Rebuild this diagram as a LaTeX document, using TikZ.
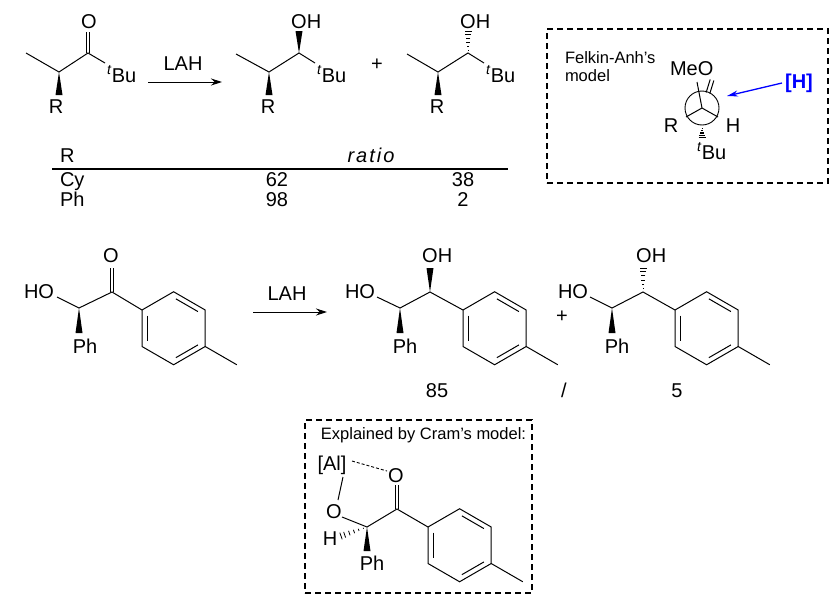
\documentclass[tikz,border=0pt]{standalone}
\usepackage{fontspec}
\setmainfont{Liberation Sans}
\usetikzlibrary{calc,arrows.meta}
\tikzset{
  bond/.style={line width=1pt},
  lb/.style={inner sep=0pt, outer sep=0pt, font=\fontsize{20}{24}\selectfont},
  tb/.style={lb, text height=14.5pt, text depth=0.5pt},
  sm/.style={inner sep=0pt, outer sep=0pt, font=\fontsize{16.5}{19}\selectfont},
  boxd/.style={draw, line width=1.2pt, dash pattern=on 6pt off 4pt, inner sep=0pt},
  rxn/.style={line width=1pt, -{Stealth[length=11pt,width=7pt]}},
  harrow/.style={line width=1.3pt, draw=blue, -{Stealth[length=11pt,width=6pt]}},
}
\newcommand{\wdg}[2]{\fill ($(#2)!3.5pt!90:(#1)$) -- (#1) -- ($(#2)!3.5pt!-90:(#1)$) -- cycle;}
\newcommand{\hsh}[2]{\foreach \hh in {0.14,0.32,0.5,0.68,0.86,1.0}{\draw[line width=0.8pt] ($(#1)!\hh!(#2)!{\hh*3.5pt}!90:(#1)$) -- ($(#1)!\hh!(#2)!{\hh*3.5pt}!-90:(#1)$);}}
\newcommand{\dblb}[2]{%
\draw[bond] ($(#1)!1.9pt!90:(#2)$) -- ($(#2)!1.9pt!-90:(#1)$);
\draw[bond] ($(#1)!1.9pt!-90:(#2)$) -- ($(#2)!1.9pt!90:(#1)$);}
\newcommand{\tolring}[3]{%
\begin{scope}[shift={(#2,#3)}]
\coordinate (#1a) at (0,0);
\coordinate (#1b) at (31.6,-18.25);
\coordinate (#1c) at (63.2,0);
\coordinate (#1d) at (63.2,36.5);
\coordinate (#1e) at (31.6,54.75);
\coordinate (#1f) at (0,36.5);
\coordinate (#1m) at (94.8,54.75);
\coordinate (#1i1) at (5,5.5);
\coordinate (#1i2) at (5,31);
\coordinate (#1i3) at (33.86,-11.17);
\coordinate (#1i4) at (55.94,1.58);
\coordinate (#1i5) at (55.94,34.92);
\coordinate (#1i6) at (33.86,47.67);
\draw[bond] (#1a) -- (#1b) -- (#1c) -- (#1d) -- (#1e) -- (#1f) -- cycle;
\draw[bond] (#1d) -- (#1m);
\draw[bond] (#1i1) -- (#1i2);
\draw[bond] (#1i3) -- (#1i4);
\draw[bond] (#1i5) -- (#1i6);
\end{scope}}
\begin{document}
\begin{tikzpicture}[x=1pt,y=-1pt]
\useasboundingbox (0,0) rectangle (836,600);
% ---------- Reaction 1: reactant
\coordinate (r1me) at (26,53);
\coordinate (r1c2) at (59,72);
\coordinate (r1c1) at (88,53);
\coordinate (r1o) at (88,32);
\coordinate (r1tb) at (105,63);
\coordinate (r1w) at (59,95);
\draw[bond] (r1me) -- (r1c2) -- (r1c1) -- (r1tb);
\dblb{r1c1}{r1o}
\wdg{r1c2}{r1w}
\node[lb,anchor=base] (r1O) at (89,28) {O};
\node[lb,anchor=base] (r1R) at (56,113) {R};
\node[lb,anchor=base west] (r1t) at (107,82) {\textsuperscript{\textit{t}}Bu};
% arrow 1
\coordinate (ar1s) at (148,82);
\coordinate (ar1e) at (222,82);
\draw[rxn] (ar1s) -- (ar1e);
\node[lb,anchor=base] (lah1) at (183,70) {LAH};
% product 1
\coordinate (p1me) at (236,54);
\coordinate (p1c2) at (269,72);
\coordinate (p1c1) at (299,53);
\coordinate (p1oh) at (299,31);
\coordinate (p1tb) at (315,63);
\coordinate (p1w) at (269,95);
\draw[bond] (p1me) -- (p1c2) -- (p1c1) -- (p1tb);
\wdg{p1c2}{p1w}
\wdg{p1c1}{p1oh}
\node[lb,anchor=base west] (p1OH) at (291.2,28) {OH};
\node[lb,anchor=base] (p1R) at (268,113) {R};
\node[lb,anchor=base west] (p1t) at (317,82) {\textsuperscript{\textit{t}}Bu};
\node[lb] (plus1) at (377,65) {+};
% product 2
\coordinate (p2me) at (407,54);
\coordinate (p2c2) at (438,72);
\coordinate (p2c1) at (468,53);
\coordinate (p2oh) at (468,31);
\coordinate (p2tb) at (484,63);
\coordinate (p2w) at (438,95);
\draw[bond] (p2me) -- (p2c2) -- (p2c1) -- (p2tb);
\wdg{p2c2}{p2w}
\hsh{p2c1}{p2oh}
\node[lb,anchor=base west] (p2OH) at (460.2,28) {OH};
\node[lb,anchor=base] (p2R) at (437,113) {R};
\node[lb,anchor=base west] (p2t) at (486,82) {\textsuperscript{\textit{t}}Bu};
% ---------- table
\node[tb,anchor=base west] (tR) at (60,162) {R};
\node[tb,anchor=base] (tratio) at (372,162) {\addfontfeature{LetterSpace=10}\textit{ratio}};
\coordinate (tl1) at (52,169);
\coordinate (tl2) at (508,169);
\draw[line width=1.3pt] (tl1) -- (tl2);
\node[tb,anchor=base west] (tCy) at (60,186) {Cy};
\node[tb,anchor=base] (t62) at (277,186) {62};
\node[tb,anchor=base] (t38) at (463,186) {38};
\node[tb,anchor=base west] (tPh) at (60,206) {Ph};
\node[tb,anchor=base] (t98) at (277,206) {98};
\node[tb,anchor=base] (t2) at (463,206) {2};
% ---------- Felkin-Anh box
\node[boxd, minimum width=281pt, minimum height=154pt] (fbox) at (687.5,106) {};
\node[sm,anchor=base west] (fa1) at (565,63) {Felkin-Anh's};
\node[sm,anchor=base west] (fa2) at (565,81) {model};
\coordinate (nc) at (702,108);
\node[draw, circle, line width=0.9pt, minimum size=34pt, inner sep=0pt] (ncirc) at (702,108) {};
\coordinate (nme) at (697,82);
\coordinate (nrl) at (686,117);
\coordinate (nhr) at (718,117);
\draw[bond] (nc) -- (nme);
\draw[bond] (nc) -- (nrl);
\draw[bond] (nc) -- (nhr);
\coordinate (nd1) at (708,93);
\coordinate (nd2) at (712,80);
\dblb{nd1}{nd2}
\coordinate (nh1) at (702,127);
\coordinate (nh2) at (702,137);
\hsh{nh1}{nh2}
\node[lb,anchor=base west] (nMeO) at (670,75) {MeO};
\node[lb,anchor=base] (nR) at (671,132) {R};
\node[lb,anchor=base] (nH) at (733,132) {H};
\node[lb,anchor=base west] (nt) at (697,159) {\textsuperscript{\textit{t}}Bu};
\node[lb,anchor=base,text=blue,font=\fontsize{20}{24}\selectfont\bfseries] (hH) at (799,88) {[H]};
\coordinate (hs) at (782,83);
\coordinate (he) at (727,96);
\draw[harrow] (hs) -- (he);
% ---------- Reaction 2: reactant
\node[lb,anchor=base east] (s1HO) at (54,298) {HO};
\coordinate (s1o) at (57,297);
\coordinate (s1ca) at (79,308);
\coordinate (s1cc) at (112,292);
\coordinate (s1od) at (112,268);
\coordinate (s1w) at (79,333);
\tolring{ra}{142}{310}
\draw[bond] (s1o) -- (s1ca) -- (s1cc) -- (raa);
\dblb{s1cc}{s1od}
\wdg{s1ca}{s1w}
\node[lb,anchor=base] (s1O) at (111,262) {O};
\node[lb,anchor=base] (s1Ph) at (85,353) {Ph};
% arrow 2
\coordinate (ar2s) at (253,312);
\coordinate (ar2e) at (327,312);
\draw[rxn] (ar2s) -- (ar2e);
\node[lb,anchor=base] (lah2) at (287,300) {LAH};
% product 3
\node[lb,anchor=base east] (s2HO) at (375,298) {HO};
\coordinate (s2o) at (377,297);
\coordinate (s2ca) at (400,308);
\coordinate (s2cb) at (430,292);
\coordinate (s2oh) at (430,268);
\coordinate (s2w) at (400,333);
\tolring{rb}{463}{310}
\draw[bond] (s2o) -- (s2ca) -- (s2cb) -- (rba);
\wdg{s2ca}{s2w}
\wdg{s2cb}{s2oh}
\node[lb,anchor=base west] (s2OH) at (422.2,262) {OH};
\node[lb,anchor=base] (s2Ph) at (405,353) {Ph};
\node[lb] (plus2) at (562,317) {+};
% product 4
\node[lb,anchor=base east] (s3HO) at (588,298) {HO};
\coordinate (s3o) at (590,297);
\coordinate (s3ca) at (612,308);
\coordinate (s3cb) at (643,292);
\coordinate (s3oh) at (643,268);
\coordinate (s3w) at (612,333);
\tolring{rc}{675}{310}
\draw[bond] (s3o) -- (s3ca) -- (s3cb) -- (rca);
\wdg{s3ca}{s3w}
\hsh{s3cb}{s3oh}
\node[lb,anchor=base west] (s3OH) at (636.2,262) {OH};
\node[lb,anchor=base] (s3Ph) at (617,353) {Ph};
% numbers
\node[lb,anchor=base] (n85) at (437,397) {85};
\node[lb,anchor=base] (nsl) at (564,397) {/};
\node[lb,anchor=base] (n5) at (677,397) {5};
% ---------- Cram box
\node[boxd, minimum width=227pt, minimum height=173pt] (cbox) at (418.5,506.5) {};
\node[sm,anchor=base] (cramt) at (423.5,439) {Explained by Cram's model:};
\node[lb,anchor=base] (cAl) at (332,470) {[Al]};
\node[lb,anchor=base] (cO1) at (396,482) {O};
\node[lb,anchor=base] (cO2) at (334,518) {O};
\node[lb,anchor=base] (cH) at (330,545) {H};
\node[lb,anchor=base] (cPh) at (372,570) {Ph};
\coordinate (cd1) at (352,461);
\coordinate (cd2) at (387,471);
\draw[line width=0.9pt, dash pattern=on 3pt off 2pt] (cd1) -- (cd2);
\coordinate (ca1) at (343,477);
\coordinate (ca2) at (338,500);
\draw[bond] (ca1) -- (ca2);
\coordinate (cob) at (342,517);
\coordinate (cca) at (367,527);
\coordinate (ccc) at (397,509);
\coordinate (ccod) at (397,485);
\coordinate (chh) at (341,536);
\coordinate (cw) at (367,551);
\tolring{rd}{428}{527}
\draw[bond] (cob) -- (cca) -- (ccc) -- (rda);
\dblb{ccc}{ccod}
\hsh{cca}{chh}
\wdg{cca}{cw}
\end{tikzpicture}
\end{document}
